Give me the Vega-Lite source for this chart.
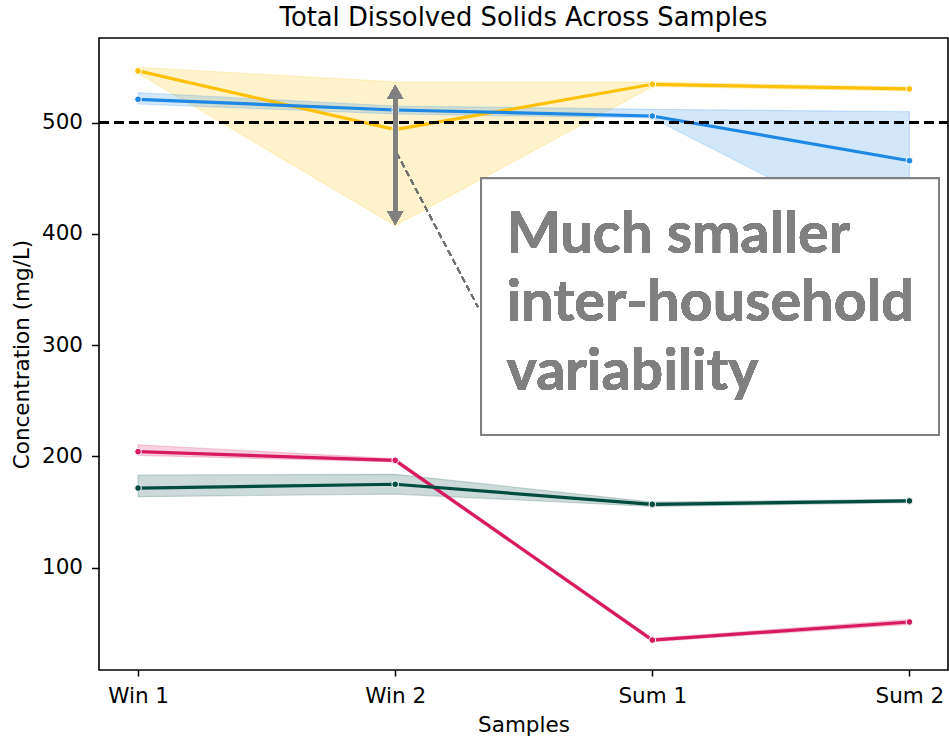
{
  "$schema": "https://vega.github.io/schema/vega-lite/v6.json",
  "width": 849,
  "height": 632,
  "autosize": {"type": "none"},
  "padding": {"left": 99, "top": 38, "right": 1, "bottom": 71},
  "background": "white",
  "title": {"text": "Total Dissolved Solids Across Samples", "font": "DejaVu Sans", "fontSize": 25.8, "fontWeight": "normal", "color": "black", "offset": 6},
  "config": {
    "view": {"stroke": "black", "strokeWidth": 1.6},
    "axis": {"labelFont": "DejaVu Sans", "titleFont": "DejaVu Sans", "labelFontSize": 21.5, "titleFontSize": 21.5, "titleFontWeight": "normal", "labelColor": "black", "titleColor": "black", "tickColor": "black", "tickWidth": 1.5, "grid": false, "domain": false}
  },
  "data": {"values": [
    {"s": 0, "series": "A", "mean": 546.5, "lo": 544.4, "hi": 549.8},
    {"s": 1, "series": "A", "mean": 493.7, "lo": 407.5, "hi": 536.6},
    {"s": 2, "series": "A", "mean": 534.5, "lo": 532.5, "hi": 536.5},
    {"s": 3, "series": "A", "mean": 530.3, "lo": 528.5, "hi": 532.0},
    {"s": 0, "series": "B", "mean": 521.0, "lo": 516.8, "hi": 527.0},
    {"s": 1, "series": "B", "mean": 511.4, "lo": 507.8, "hi": 515.0},
    {"s": 2, "series": "B", "mean": 506.0, "lo": 504.2, "hi": 512.0},
    {"s": 3, "series": "B", "mean": 465.8, "lo": 386.0, "hi": 509.9},
    {"s": 0, "series": "C", "mean": 204.3, "lo": 201.0, "hi": 210.5},
    {"s": 1, "series": "C", "mean": 196.5, "lo": 195.0, "hi": 198.0},
    {"s": 2, "series": "C", "mean": 35.0, "lo": 33.5, "hi": 36.5},
    {"s": 3, "series": "C", "mean": 51.2, "lo": 49.0, "hi": 53.5},
    {"s": 0, "series": "D", "mean": 171.6, "lo": 163.8, "hi": 183.3},
    {"s": 1, "series": "D", "mean": 175.0, "lo": 166.2, "hi": 183.9},
    {"s": 2, "series": "D", "mean": 157.0, "lo": 155.0, "hi": 159.0},
    {"s": 3, "series": "D", "mean": 160.0, "lo": 158.5, "hi": 161.5}
  ]},
  "encoding": {
    "x": {"field": "s", "type": "quantitative", "scale": {"domain": [-0.152, 3.15], "nice": false, "zero": false},
      "axis": {"values": [0, 1, 2, 3], "labelExpr": "['Win 1','Win 2','Sum 1','Sum 2'][datum.value]", "title": "Samples", "tickSize": 6, "labelPadding": 9, "titlePadding": 8}},
    "color": {"field": "series", "type": "nominal", "scale": {"domain": ["A", "B", "C", "D"], "range": ["#FFC107", "#1E88E5", "#D81B60", "#004D40"]}, "legend": null}
  },
  "layer": [
    {"mark": {"type": "area", "fillOpacity": 0.2, "strokeOpacity": 0.2, "strokeWidth": 1.2},
     "encoding": {
       "y": {"field": "lo", "type": "quantitative", "scale": {"domain": [8.05, 576.1], "nice": false, "zero": false},
         "axis": {"values": [100, 200, 300, 400, 500], "title": "Concentration (mg/L)", "tickSize": 7.5, "labelPadding": 9, "titlePadding": 8}},
       "y2": {"field": "hi"},
       "stroke": {"field": "series", "type": "nominal", "scale": {"domain": ["A", "B", "C", "D"], "range": ["#FFC107", "#1E88E5", "#D81B60", "#004D40"]}, "legend": null}
     }},
    {"mark": {"type": "line", "strokeWidth": 3.2},
     "encoding": {"y": {"field": "mean", "type": "quantitative"}}},
    {"mark": {"type": "point", "filled": true, "size": 45, "strokeWidth": 1, "opacity": 1},
     "encoding": {"y": {"field": "mean", "type": "quantitative"}, "stroke": {"value": "white"}}},
    {"mark": {"type": "rule", "strokeWidth": 2.6, "strokeDash": [10, 5]},
     "encoding": {"x": {"datum": -0.152}, "x2": {"datum": 3.15}, "y": {"datum": 500}, "color": {"value": "black"}}},
    {"mark": {"type": "rule", "strokeWidth": 1.5, "strokeDash": [6, 4]},
     "encoding": {"x": {"datum": 1.006}, "x2": {"datum": 1.322}, "y": {"datum": 472.8}, "y2": {"datum": 334.3}, "color": {"value": "#707070"}}},
    {"mark": {"type": "rule", "strokeWidth": 4},
     "encoding": {"x": {"datum": 1}, "y": {"datum": 527}, "y2": {"datum": 415}, "color": {"value": "#808080"}}},
    {"mark": {"type": "point", "shape": "triangle-up", "filled": true, "size": 256, "opacity": 1},
     "encoding": {"x": {"datum": 1}, "y": {"datum": 527.6}, "color": {"value": "#808080"}}},
    {"mark": {"type": "point", "shape": "triangle-down", "filled": true, "size": 256, "opacity": 1},
     "encoding": {"x": {"datum": 1}, "y": {"datum": 414.3}, "color": {"value": "#808080"}}},
    {"mark": {"type": "rect", "stroke": "#808080", "strokeWidth": 2},
     "encoding": {"x": {"datum": 1.334}, "x2": {"datum": 3.115}, "y": {"datum": 450}, "y2": {"datum": 219.2}, "color": {"value": "white"}}},
    {"mark": {"type": "text", "text": ["Much smaller", "inter-household", "variability"], "font": "Lato", "fontWeight": "bold", "fontSize": 57.5, "align": "left", "baseline": "alphabetic", "lineHeight": 68.5},
     "encoding": {"x": {"datum": 1.433}, "y": {"datum": 383}, "color": {"value": "#808080"}}}
  ]
}
